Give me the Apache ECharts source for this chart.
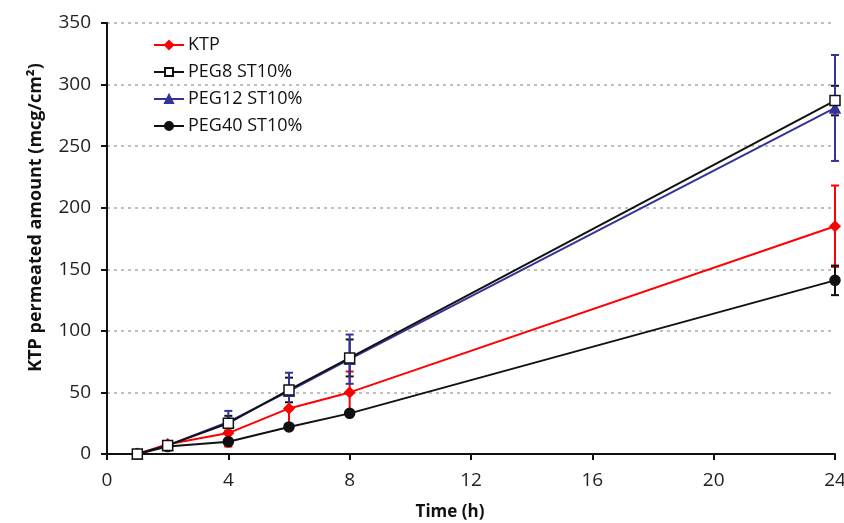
<!DOCTYPE html>
<html>
<head>
<meta charset="utf-8">
<script src="https://cdn.jsdelivr.net/npm/echarts@6/dist/echarts.min.js"></script>
<style>
  html, body { margin: 0; padding: 0; background: #fff; }
  #chart { width: 844px; height: 523px; }
</style>
</head>
<body>
<div id="chart"></div>
<script>
// time points (h)
const times = [1, 2, 4, 6, 8, 24];

// mean permeated amount (mcg/cm2) and error
const ktp = [0, 8, 17, 37, 50, 185];
const ktpErr = [0, 2, 11, 15, 17, 33];
const peg8 = [0, 7, 25, 52, 78, 287];
const peg8Err = [0, 1, 6, 10, 15, 12];
const peg12 = [0, 7, 26, 51, 77, 281];
const peg12Err = [0, 1, 9, 15, 20, 43];
const peg40 = [0, 6, 10, 22, 33, 141];
const peg40Err = [0, 1, 2, 2, 2, 12];

const font = '"Open Sans", sans-serif';

function pairs(vals) {
  return times.map((t, i) => [t, vals[i]]);
}

function errSeries(vals, errs, color) {
  return {
    type: 'custom',
    silent: true,
    z: 1,
    data: times.map((t, i) => [t, vals[i] - errs[i], vals[i] + errs[i]]),
    renderItem: function (params, api) {
      const lo = api.coord([api.value(0), api.value(1)]);
      const hi = api.coord([api.value(0), api.value(2)]);
      const w = 4;
      const style = { stroke: color, lineWidth: 2 };
      return {
        type: 'group',
        children: [
          { type: 'line', shape: { x1: lo[0], y1: lo[1], x2: hi[0], y2: hi[1] }, style: style },
          { type: 'line', shape: { x1: hi[0] - w, y1: hi[1], x2: hi[0] + w, y2: hi[1] }, style: style },
          { type: 'line', shape: { x1: lo[0] - w, y1: lo[1], x2: lo[0] + w, y2: lo[1] }, style: style }
        ]
      };
    }
  };
}

function lineSeries(name, vals, color, symbol, fill, size) {
  return {
    name: name,
    type: 'line',
    z: 3,
    data: pairs(vals),
    symbol: symbol,
    symbolSize: size,
    showAllSymbol: true,
    lineStyle: { color: color, width: 2 },
    itemStyle: { color: fill, borderColor: color, borderWidth: 1.5 }
  };
}

const chart = echarts.init(document.getElementById('chart'));
chart.setOption({
  animation: false,
  backgroundColor: '#fff',
  grid: { left: 107, right: 9, top: 23, bottom: 69, containLabel: false, outerBoundsMode: 'none' },
  legend: {
    left: 148,
    top: 31,
    orient: 'vertical',
    itemGap: 9,
    itemWidth: 30,
    itemHeight: 10,
    textStyle: { fontFamily: font, fontSize: 18, color: '#111', padding: [0, 0, 0, -1] },
    data: ['KTP', 'PEG8 ST10%', 'PEG12 ST10%', 'PEG40 ST10%']
  },
  xAxis: {
    type: 'value',
    min: 0,
    max: 24,
    interval: 4,
    name: 'Time (h)',
    nameLocation: 'middle',
    nameGap: 50,
    nameTextStyle: { fontFamily: font, fontSize: 17, fontWeight: 'bold', color: '#111', padding: [0, 42, 0, 0] },
    axisLine: { lineStyle: { color: '#111', width: 2 } },
    axisTick: { show: true, length: 6, lineStyle: { color: '#111', width: 2 } },
    axisLabel: { fontFamily: font, fontSize: 19, color: '#222', margin: 17 },
    splitLine: { show: false }
  },
  yAxis: {
    type: 'value',
    min: 0,
    max: 350,
    interval: 50,
    name: 'KTP permeated amount (mcg/cm²)',
    nameLocation: 'middle',
    nameGap: 62,
    nameTextStyle: { fontFamily: font, fontSize: 18, fontWeight: 'bold', color: '#111', padding: [0, 0, 0, 42] },
    axisLine: { show: true, lineStyle: { color: '#111', width: 2 } },
    axisTick: { show: true, length: 6, lineStyle: { color: '#111', width: 2 } },
    axisLabel: { fontFamily: font, fontSize: 19, color: '#222', margin: 16 },
    splitLine: { show: true, lineStyle: { color: '#aaa', type: [3, 4], width: 1.5 } }
  },
  series: [
    errSeries(ktp, ktpErr, '#ff0000'),
    errSeries(peg40, peg40Err, '#111'),
    errSeries(peg8, peg8Err, '#111'),
    errSeries(peg12, peg12Err, '#333399'),
    lineSeries('KTP', ktp, '#ff0000', 'diamond', '#ff0000', 10),
    lineSeries('PEG40 ST10%', peg40, '#111', 'circle', '#111', 10),
    lineSeries('PEG12 ST10%', peg12, '#333399', 'triangle', '#333399', 10),
    lineSeries('PEG8 ST10%', peg8, '#111', 'rect', '#fff', 10)
  ]
});
</script>
</body>
</html>
